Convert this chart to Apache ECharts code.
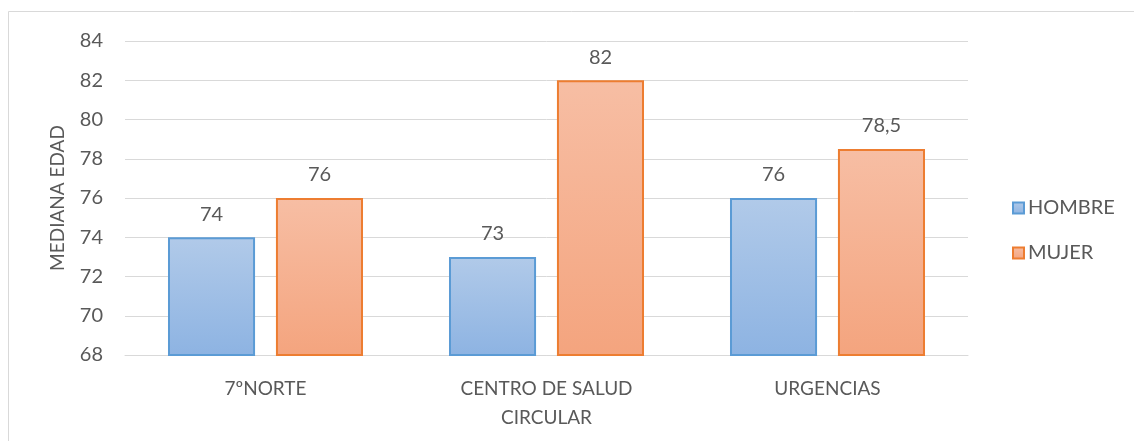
<!DOCTYPE html>
<html>
<head>
<meta charset="utf-8">
<script src="https://cdn.jsdelivr.net/npm/echarts@6/dist/echarts.min.js"></script>
<style>
  html, body { margin: 0; padding: 0; background: #ffffff; }
  #chart { width: 1134px; height: 441px; }
</style>
</head>
<body>
<div id="chart"></div>
<script>
// Median age by service and sex
const categories = ['7ºNORTE', 'CENTRO DE SALUD\nCIRCULAR', 'URGENCIAS'];
const hombre = [74, 73, 76];
const mujer = [76, 82, 78.5];
const seriesNames = ['HOMBRE', 'MUJER'];
const yTicks = { min: 68, max: 84, interval: 2 };
const yTitle = 'MEDIANA EDAD';

const textColor = '#595959';
const fontFamily = 'Lato, "Open Sans", sans-serif';
const fontSize = 19;
const numSize = 20;

const fmt = p => String(p.value).replace('.', ',');

function grad(top, bottom) {
  return new echarts.graphic.LinearGradient(0, 0, 0, 1, [
    { offset: 0, color: top },
    { offset: 1, color: bottom }
  ]);
}

const chart = echarts.init(document.getElementById('chart'), null, { renderer: 'canvas' });
chart.setOption({
  animation: false,
  backgroundColor: '#ffffff',
  textStyle: { fontFamily: fontFamily },
  graphic: [{
    type: 'rect',
    shape: { x: 8.5, y: 11.5, width: 1140, height: 440 },
    style: { fill: 'none', stroke: '#d9d9d9', lineWidth: 1 },
    silent: true
  }],
  grid: { left: 125, right: 166, top: 41, bottom: 86, containLabel: false },
  legend: {
    orient: 'vertical',
    left: 1007,
    top: 193,
    itemGap: 25,
    itemWidth: 11,
    itemHeight: 11,
    icon: 'rect',
    textStyle: { color: textColor, fontSize: 20, fontFamily: fontFamily, padding: [0, 0, 0, -1] },
    data: seriesNames
  },
  xAxis: {
    type: 'category',
    data: categories,
    axisLine: { show: true, lineStyle: { color: '#d9d9d9', width: 1 } },
    axisTick: { show: false },
    axisLabel: { color: textColor, fontSize: fontSize, lineHeight: 29, margin: 19, fontFamily: fontFamily }
  },
  yAxis: {
    type: 'value',
    min: yTicks.min,
    max: yTicks.max,
    interval: yTicks.interval,
    name: yTitle,
    nameLocation: 'middle',
    nameGap: 58,
    nameTextStyle: { color: textColor, fontSize: fontSize, fontFamily: fontFamily },
    axisLine: { show: false },
    axisTick: { show: false },
    axisLabel: { color: textColor, fontSize: numSize, margin: 22, fontFamily: fontFamily },
    splitLine: { lineStyle: { color: '#d9d9d9', width: 1 } }
  },
  series: [
    {
      name: seriesNames[0],
      type: 'bar',
      data: hombre,
      barGap: '24%',
      barCategoryGap: '30.6%',
      itemStyle: { color: grad('#b1cae9', '#8db3e2'), borderColor: '#5b9bd5', borderWidth: 2 },
      label: { show: true, position: 'top', distance: 13, color: textColor, fontSize: numSize, fontFamily: fontFamily, formatter: fmt }
    },
    {
      name: seriesNames[1],
      type: 'bar',
      data: mujer,
      itemStyle: { color: grad('#f7bea4', '#f4a47e'), borderColor: '#ed7d31', borderWidth: 2 },
      label: { show: true, position: 'top', distance: 13, color: textColor, fontSize: numSize, fontFamily: fontFamily, formatter: fmt }
    }
  ]
});
</script>
</body>
</html>
